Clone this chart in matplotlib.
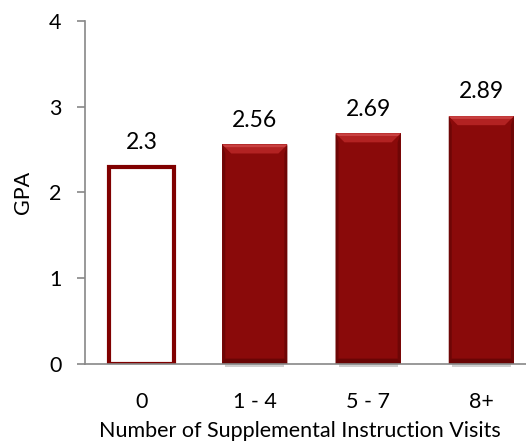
import numpy as np
import matplotlib
matplotlib.use("Agg")
import matplotlib.pyplot as plt
from matplotlib.patches import Polygon

categories = ["0", "1 - 4", "5 - 7", "8+"]
gpa = [2.3, 2.56, 2.69, 2.89]
labels = ["2.3", "2.56", "2.69", "2.89"]
hollow = [True, False, False, False]

plt.rcParams['font.family'] = ['Lato', 'DejaVu Sans']

W, H = 526, 441
fig = plt.figure(figsize=(W / 100, H / 100), dpi=100)
axw, axh = 0.861, 0.7778
ax = fig.add_axes([0.1616, 0.1746, axw, axh])

red = "#8a0a0a"
x = np.arange(len(categories))
bars = ax.bar(x, gpa, width=0.575, color=red, edgecolor="none", zorder=2)

ax.set_xlim(-0.5, 3.5)
ax.set_ylim(0, 4)

# pixel -> data size helpers for the bevel
px_x = 4.0 / (axw * W)
px_y = 4.0 / (axh * H)

for b, h in zip(bars, hollow):
    x0, w, top = b.get_x(), b.get_width(), b.get_height()
    if h:
        b.set_facecolor("white")
        b.set_edgecolor("#800000")
        b.set_linewidth(3.0)
        b.set_joinstyle("miter")
        continue
    bx, by = 9 * px_x, 9 * px_y
    # top bevel
    ax.add_patch(Polygon([(x0, top), (x0 + w, top), (x0 + w - bx, top - by),
                          (x0 + bx, top - by)], closed=True,
                         facecolor="#b22222", edgecolor="none", zorder=3))
    ax.add_patch(Polygon([(x0, top), (x0 + w, top), (x0 + w - bx * 0.3, top - by * 0.3),
                          (x0 + bx * 0.3, top - by * 0.3)], closed=True,
                         facecolor="#c84040", edgecolor="none", zorder=3))
    # side bevels
    sx = 3 * px_x
    ax.add_patch(Polygon([(x0, top), (x0 + sx, top - by), (x0 + sx, 0), (x0, 0)],
                         closed=True, facecolor="#6e0606", edgecolor="none", zorder=3))
    ax.add_patch(Polygon([(x0 + w, top), (x0 + w - sx, top - by), (x0 + w - sx, 0), (x0 + w, 0)],
                         closed=True, facecolor="#6e0606", edgecolor="none", zorder=3))
    # bottom bevel
    ax.add_patch(Polygon([(x0, 0), (x0 + w, 0), (x0 + w - sx, by * 0.6), (x0 + sx, by * 0.6)],
                         closed=True, facecolor="#6a0505", edgecolor="none", zorder=3))
    # soft shadow under the bar
    ax.add_patch(Polygon([(x0 + sx, 0), (x0 + w - sx, 0), (x0 + w - sx, -3 * px_y),
                          (x0 + sx, -3 * px_y)], closed=True, facecolor="#d0d0d0",
                         edgecolor="none", zorder=1, clip_on=False))

for xi, v, lab in zip(x, gpa, labels):
    ax.annotate(lab, (xi, v), xytext=(0, 17.5), textcoords="offset points",
                ha="center", va="center", fontsize=16.5, color="black")

for s in ["top", "right"]:
    ax.spines[s].set_visible(False)
for s in ["left", "bottom"]:
    ax.spines[s].set_color("#888888")
    ax.spines[s].set_linewidth(1.2)
    ax.spines[s].set_zorder(4)

ax.set_yticks([0, 1, 2, 3, 4])
ax.set_xticks(x)
ax.set_xticklabels(categories)
ax.tick_params(axis="y", length=6, width=1.2, color="#888888", pad=11, labelsize=15.5)
ax.tick_params(axis="x", length=0, pad=20, labelsize=15.5)
ax.set_ylabel("GPA", fontsize=15.5)
ax.yaxis.set_label_coords(-(85 - 33) / (axw * W), 0.5)
ax.set_xlabel("Number of Supplemental Instruction Visits", fontsize=15.5)
ax.xaxis.set_label_coords((300 - 85) / (axw * W), -(421 - 364) / (axh * H))

fig.savefig("out.png", dpi=100)
